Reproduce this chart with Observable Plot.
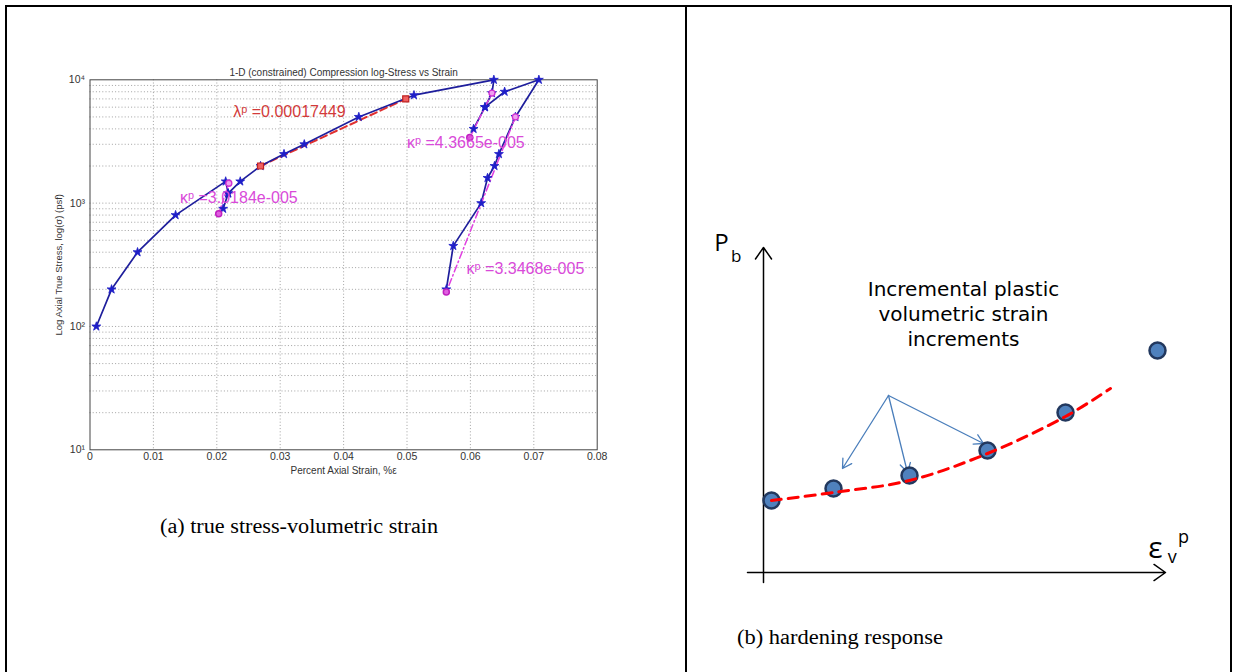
<!DOCTYPE html>
<html>
<head>
<meta charset="utf-8">
<script src="https://cdn.jsdelivr.net/npm/d3@7"></script>
<script src="https://cdn.jsdelivr.net/npm/@observablehq/plot@0.6"></script>
<style>
  html, body { margin: 0; padding: 0; background: #fff; }
  #page { position: relative; width: 1233px; height: 672px; overflow: hidden; background: #fff; }
  .abs { position: absolute; }
  .vline { position: absolute; width: 1.5px; background: #000; }
  .hline { position: absolute; height: 1.5px; background: #000; }
  .cap { position: absolute; font-family: "Liberation Serif", "DejaVu Serif", serif; font-size: 20px; color: #000; white-space: nowrap; transform-origin: 0 50%; }
</style>
</head>
<body>
<div id="page"></div>
<script>
// ---------------- Panel (a) data ----------------
const xTicks = [0, 0.01, 0.02, 0.03, 0.04, 0.05, 0.06, 0.07, 0.08];
const yTicks = [10, 100, 1000, 10000];
const yDecades = [10, 100, 1000];
const yMultipliers = [2, 3, 4, 5, 6, 7, 8, 9, 10];

// measured path (blue)
const strain = [0.0010, 0.0034, 0.0075, 0.0135, 0.0214, 0.0218, 0.0210, 0.0218, 0.0237, 0.0269, 0.0306, 0.0338, 0.0424, 0.0511, 0.0637, 0.0634, 0.0623, 0.0605, 0.0623, 0.0654, 0.0708, 0.0671, 0.0645, 0.0638, 0.0627, 0.0617, 0.0573, 0.0562];
const stress = [100, 200, 400, 800, 1500, 1200, 900, 1200, 1500, 2000, 2500, 3000, 5000, 7500, 10000, 7800, 6000, 4000, 6000, 8000, 10000, 5000, 2500, 2000, 1600, 1000, 450, 200];

// fitted lines
const lambdaStrain = [0.0269, 0.0498];
const lambdaStress = [2000, 7000];
const kappa1Strain = [0.0219, 0.0203];
const kappa1Stress = [1450, 820];
const kappa2Strain = [0.0634, 0.0599];
const kappa2Stress = [7800, 3400];
const kappa3Strain = [0.0671, 0.0562];
const kappa3Stress = [5000, 190];

// annotation labels
const labelText = ["λᵖ =0.00017449", "κᵖ =4.3665e-005", "κᵖ =3.0184e-005", "κᵖ =3.3468e-005"];
const labelStrain = [0.0226, 0.0500, 0.0142, 0.0594];
const labelStress = [5500, 3100, 1110, 295];
const labelColor = ["#d23a3a", "#d94ad9", "#d94ad9", "#d94ad9"];

// ---------------- Panel (b) data ----------------
const circleX = [0.2, 1.75, 3.65, 5.6, 7.55, 9.85];
const circleY = [1.8, 2.1, 2.425, 3.05, 4.0, 5.55];
const curveX = [0.2, 1.75, 3.65, 5.6, 7.55, 8.675];
const curveY = [1.8, 2.0, 2.3, 2.975, 3.9, 4.6];
const arrowFrom = [3.125, 4.425];
const arrowToX = [1.975, 3.6, 5.5];
const arrowToY = [2.6, 2.5, 3.225];

// ---------------- build ----------------
const page = document.getElementById("page");
const sup = {1: "¹", 2: "²", 3: "³", 4: "⁴"};
const yGrid = yDecades.flatMap(d => yMultipliers.map(m => d * m));
const blue = strain.map((x, i) => ({x, y: stress[i]}));
const pairs = (xs, ys) => xs.map((x, i) => ({x, y: ys[i]}));
const lambdaLine = pairs(lambdaStrain, lambdaStress);
const k1 = pairs(kappa1Strain, kappa1Stress);
const k2 = pairs(kappa2Strain, kappa2Stress);
const k3 = pairs(kappa3Strain, kappa3Stress);
const labels = labelText.map((t, i) => ({t, x: labelStrain[i], y: labelStress[i], c: labelColor[i]}));

const W1 = 680, H1 = 500;
const left = Plot.plot({
  width: W1, height: H1,
  marginLeft: 89.5, marginRight: W1 - 596.7, marginTop: 79.3, marginBottom: H1 - 449.3,
  style: {fontFamily: "Liberation Sans, Arial, sans-serif", background: "transparent", overflow: "visible"},
  x: {domain: [0, 0.08]},
  y: {type: "log", domain: [10, 10000]},
  marks: [
    Plot.ruleX(xTicks.slice(1, -1), {stroke: "#8a8a8a", strokeWidth: 0.8, strokeDasharray: "1,2.2"}),
    Plot.ruleY(yGrid.filter(v => v < 10000), {stroke: "#8a8a8a", strokeWidth: 0.8, strokeDasharray: "1,2.2"}),
    Plot.frame({stroke: "#444", strokeWidth: 1}),
    Plot.axisX({ticks: xTicks, tickSize: 0, tickPadding: 3, fontSize: 10.5, fill: "#333",
      tickFormat: d => d === 0 ? "0" : d.toFixed(2), label: null}),
    Plot.axisY({ticks: yTicks, tickSize: 0, tickPadding: 5, fontSize: 10.5, fill: "#333",
      tickFormat: d => "10" + sup[Math.round(Math.log10(d))], label: null}),
    Plot.text(["Percent Axial Strain, %ε"], {frameAnchor: "bottom", dy: 24, fontSize: 10, fill: "#333"}),
    Plot.text(["1-D (constrained) Compression log-Stress vs Strain"], {frameAnchor: "top", dy: -11, fontSize: 10, fill: "#333"}),
    Plot.text(["Log Axial True Stress, log(σ) (psf)"], {frameAnchor: "left", textAnchor: "middle", dx: -31, rotate: -90, fontSize: 9.5, fill: "#333"}),
    // fitted lines
    Plot.line(lambdaLine, {x: "x", y: "y", stroke: "#e03030", strokeWidth: 2, strokeDasharray: "7,4"}),
    Plot.line(blue, {x: "x", y: "y", stroke: "#1e1e9c", strokeWidth: 1.7}),
    Plot.line(k1, {x: "x", y: "y", stroke: "#e040e0", strokeWidth: 1.5, strokeDasharray: "5,3"}),
    Plot.line(k2, {x: "x", y: "y", stroke: "#e040e0", strokeWidth: 1.5, strokeDasharray: "5,3"}),
    Plot.line(k3, {x: "x", y: "y", stroke: "#e040e0", strokeWidth: 1.5, strokeDasharray: "7,3,1.5,3"}),
    Plot.dot(blue, {x: "x", y: "y", symbol: "star", r: 2.8, fill: "#1e1ec8", stroke: "#1e1ec8", strokeWidth: 0.8}),
    Plot.dot(lambdaLine, {x: "x", y: "y", symbol: "square", r: 3.4, fill: "#f06060", stroke: "#c02020", strokeWidth: 1.2}),
    Plot.dot([k1[0], k2[0], k3[0]], {x: "x", y: "y", r: 3, fill: "#f0a0f0", stroke: "#d030d0", strokeWidth: 1.3}),
    Plot.dot([k1[1], k2[1], k3[1]], {x: "x", y: "y", r: 3, fill: "#e060e0", stroke: "#c020c0"}),
    Plot.text(labels, {x: "x", y: "y", text: "t", fill: "c", textAnchor: "start", lineAnchor: "middle",
      fontSize: 16, fontWeight: 500})
  ]
});
left.classList.add("abs");
left.style.left = "0px"; left.style.top = "0px";
page.appendChild(left);

// right panel
const W2 = 540, H2 = 420;
const pts = pairs(circleX, circleY);
const curve = pairs(curveX, curveY);
const arrows = arrowToX.map((x, i) => ({x1: arrowFrom[0], y1: arrowFrom[1], x2: x, y2: arrowToY[i]}));
const right = Plot.plot({
  width: W2, height: H2,
  margin: 0,
  style: {fontFamily: "Open Sans, sans-serif", background: "transparent", overflow: "visible"},
  x: {domain: [-1.825, 11.675], axis: null},
  y: {domain: [-1.2, 9.3], axis: null},
  marks: [
    Plot.arrow([{x1: 0, y1: -0.25, x2: 0, y2: 8.125}], {x1: "x1", y1: "y1", x2: "x2", y2: "y2", stroke: "#000", strokeWidth: 1.5, headLength: 14, headAngle: 70}),
    Plot.arrow([{x1: -0.4, y1: 0, x2: 10.05, y2: 0}], {x1: "x1", y1: "y1", x2: "x2", y2: "y2", stroke: "#000", strokeWidth: 1.5, headLength: 14, headAngle: 70}),
    Plot.arrow(arrows, {x1: "x1", y1: "y1", x2: "x2", y2: "y2", stroke: "#4a7ebb", strokeWidth: 1.3, headLength: 12, headAngle: 60}),
    Plot.dot(pts, {x: "x", y: "y", r: 8, fill: "#4f81bd", stroke: "#22385e", strokeWidth: 2.5}),
    Plot.line(curve, {x: "x", y: "y", curve: "catmull-rom", stroke: "#ff0000", strokeWidth: 3, strokeDasharray: "10,7"}),
    Plot.text(["Incremental plastic\nvolumetric strain\nincrements"], {x: [5.0], y: [6.5], lineAnchor: "middle", lineHeight: 1.25, fontFamily: "DejaVu Sans, sans-serif", fontSize: 20, fill: "#000"}),
    Plot.text(["P"], {x: [-1.05], y: [8.225], fontSize: 24, fill: "#000"}),
    Plot.text(["b"], {x: [-0.68], y: [7.9], fontSize: 17, fill: "#000"}),
    Plot.text(["ε"], {x: [9.8], y: [0.6], fontSize: 30, fill: "#000"}),
    Plot.text(["v"], {x: [10.22], y: [0.38], fontSize: 18, fill: "#000"}),
    Plot.text(["p"], {x: [10.5], y: [0.88], fontSize: 18, fill: "#000"})
  ]
});
right.classList.add("abs");
right.style.left = "690px"; right.style.top = "200px";
page.appendChild(right);

// table borders
function line(cls, l, t, w, h) {
  const d = document.createElement("div");
  d.className = cls;
  d.style.left = l + "px"; d.style.top = t + "px";
  if (w != null) d.style.width = w + "px";
  if (h != null) d.style.height = h + "px";
  page.appendChild(d);
}
line("hline", 5, 5, 1226, null);
line("vline", 5, 5, null, 680);
line("vline", 685, 5, null, 680);
line("vline", 1230, 5, null, 680);

// captions (fit to measured widths)
function caption(text, x, yc, targetW) {
  const c = document.createElement("div");
  c.className = "cap"; c.textContent = text;
  c.style.left = x + "px";
  page.appendChild(c);
  const r = c.getBoundingClientRect();
  c.style.top = (yc - r.height / 2) + "px";
  c.style.transform = "scaleX(" + (targetW / r.width) + ")";
}
caption("(a) true stress-volumetric strain", 160, 526, 278);
caption("(b) hardening response", 737, 637, 206);
</script>
</body>
</html>
